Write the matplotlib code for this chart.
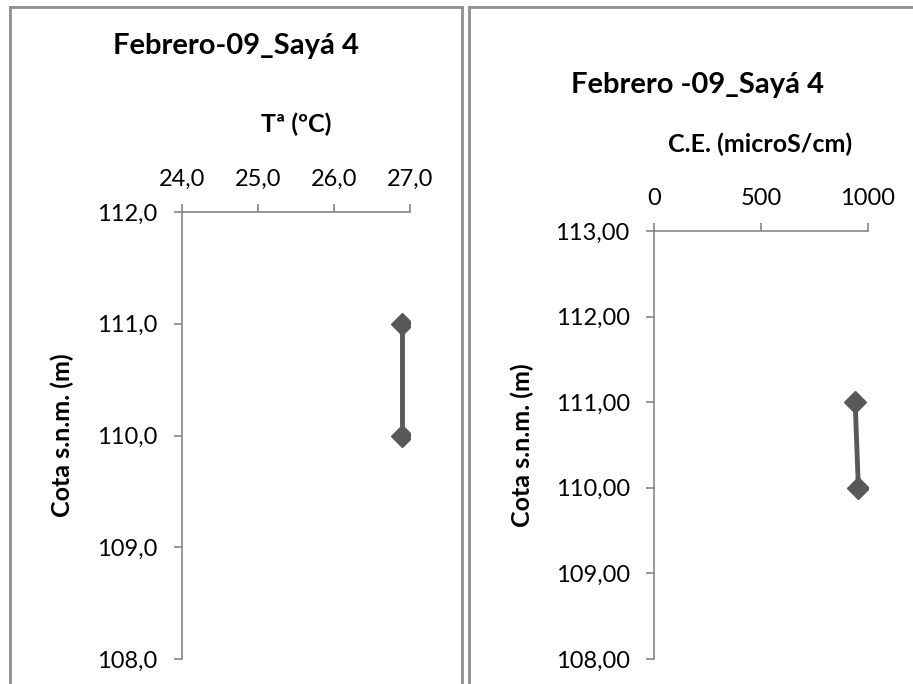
import matplotlib
matplotlib.use("Agg")
import matplotlib.pyplot as plt
from matplotlib.lines import Line2D
from matplotlib.ticker import FuncFormatter

plt.rcParams['font.family'] = ['Lato', 'DejaVu Sans']

# Data
cota_temp = [111.0, 110.0]
temp = [26.9, 26.9]
cota_ce = [111.0, 110.0]
ce = [940, 955]

temp_ticks = [24.0, 25.0, 26.0, 27.0]
cota_ticks_l = [108.0, 109.0, 110.0, 111.0, 112.0]
ce_ticks = [0, 500, 1000]
cota_ticks_r = [108.0, 109.0, 110.0, 111.0, 112.0, 113.0]

W, H = 913, 684
fig = plt.figure(figsize=(W / 100, H / 100), dpi=100)

def fx(px):
    return px / W

def fy(py):
    return 1 - py / H

spine_c = '#868686'
line_c = '#595959'

def style(ax):
    for s in ['right', 'bottom']:
        ax.spines[s].set_visible(False)
    for s in ['left', 'top']:
        ax.spines[s].set_color(spine_c)
        ax.spines[s].set_linewidth(1.2)
    ax.xaxis.set_ticks_position('top')
    ax.xaxis.set_label_position('top')
    ax.tick_params(axis='both', direction='out', length=6, width=1.2,
                   color=spine_c, labelsize=17, labelcolor='black')
    ax.tick_params(axis='x', pad=10)
    ax.tick_params(axis='y', pad=11.5)

def comma(fmt):
    return FuncFormatter(lambda v, p: (fmt % v).replace('.', ','))

# Left axes
axL = fig.add_axes([fx(182), fy(659), fx(410) - fx(182), fy(212) - fy(659)])
axL.plot(temp, cota_temp, color=line_c, lw=3.5, marker='D', ms=11, mfc=line_c, mec=line_c)
axL.set_xlim(24, 27)
axL.set_ylim(108, 112)
axL.set_xticks(temp_ticks)
axL.set_yticks(cota_ticks_l)
axL.xaxis.set_major_formatter(comma('%.1f'))
axL.yaxis.set_major_formatter(comma('%.1f'))
style(axL)
axL.patch.set_visible(False)

# Right axes
axR = fig.add_axes([fx(654), fy(659), fx(868) - fx(654), fy(231) - fy(659)])
axR.plot(ce, cota_ce, color=line_c, lw=3.5, marker='D', ms=11, mfc=line_c, mec=line_c)
axR.set_xlim(0, 1000)
axR.set_ylim(108, 113)
axR.set_xticks(ce_ticks)
axR.set_yticks(cota_ticks_r)
axR.xaxis.set_major_formatter(FuncFormatter(lambda v, p: '%d' % v))
axR.yaxis.set_major_formatter(comma('%.2f'))
style(axR)
axR.patch.set_visible(False)

# Titles and labels (figure coordinates)
fig.text(fx(236), fy(46), 'Febrero-09_Sayá 4', ha='center', va='center',
         fontsize=21, fontweight='bold')
fig.text(fx(697), fy(85), 'Febrero -09_Sayá 4', ha='center', va='center',
         fontsize=21, fontweight='bold')
fig.text(fx(296), fy(124), 'Tª (ºC)', ha='center', va='center',
         fontsize=18, fontweight='bold')
fig.text(fx(760), fy(144), 'C.E. (microS/cm)', ha='center', va='center',
         fontsize=18, fontweight='bold')
fig.text(fx(62), fy(435), 'Cota s.n.m. (m)', ha='center', va='center',
         rotation=90, fontsize=18, fontweight='bold')
fig.text(fx(522), fy(445), 'Cota s.n.m. (m)', ha='center', va='center',
         rotation=90, fontsize=18, fontweight='bold')

# Panel borders
bc = '#8f8f8f'
lw_b = 2.0
for xs, ys in [([10, 10], [7, 684]), ([10, 462], [7, 7]), ([462, 462], [7, 684]),
               ([469, 469], [7, 684]), ([469, 913], [7, 7])]:
    fig.add_artist(Line2D([fx(x) for x in xs], [fy(y) for y in ys],
                          color=bc, lw=lw_b, transform=fig.transFigure))

fig.savefig('out.png', dpi=100, facecolor='white')
